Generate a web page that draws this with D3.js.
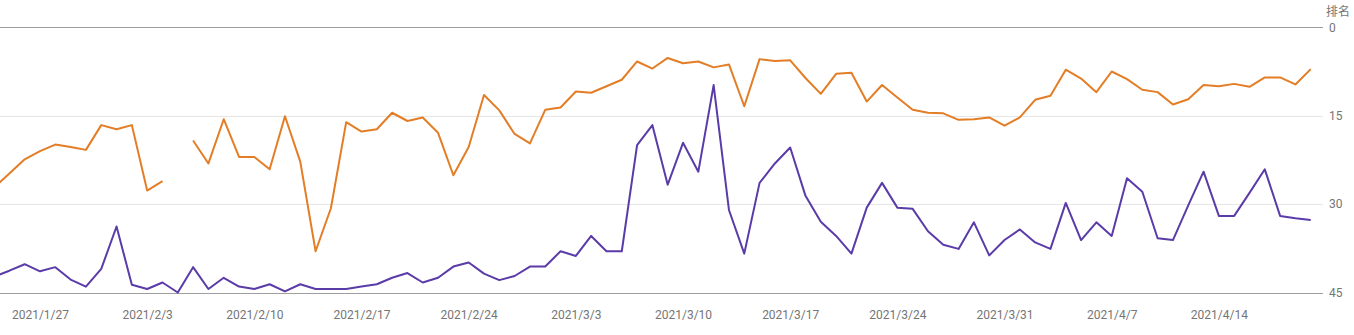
<!DOCTYPE html>
<html><head><meta charset="utf-8">
<script src="https://cdn.jsdelivr.net/npm/d3@7"></script>
<style>
html,body{margin:0;padding:0;background:#fff;}
svg{display:block;font-family:Roboto,"Noto Sans CJK SC",sans-serif;}
</style></head>
<body><svg id="c" width="1354" height="335"></svg>
<script>
const startDate = "2021-01-24";
const endDate = "2021-04-20";
const yTicks = [0, 15, 30, 45];
const yLabel = "排名";
const seriesOrange = [27.2,24.8,22.4,21.0,19.9,20.3,20.8,16.6,17.3,16.6,27.7,26.1,null,19.2,23.1,15.6,22.0,22.0,24.1,15.1,22.8,38.0,30.7,16.1,17.7,17.3,14.5,15.9,15.3,17.9,25.1,20.3,11.5,14.1,18.1,19.7,14.0,13.6,10.9,11.1,10.0,8.9,5.8,7.0,5.2,6.1,5.8,6.8,6.3,13.4,5.4,5.7,5.6,8.6,11.3,7.9,7.7,12.6,9.8,11.9,14.0,14.5,14.6,15.7,15.6,15.3,16.7,15.3,12.3,11.6,7.2,8.7,11.0,7.5,8.8,10.6,11.0,13.1,12.2,9.8,10.0,9.6,10.1,8.5,8.5,9.7,7.1];
const seriesPurple = [42.3,41.3,40.2,41.4,40.7,42.8,44.0,41.0,33.8,43.7,44.4,43.3,45.0,40.7,44.4,42.5,44.0,44.4,43.6,44.8,43.6,44.4,44.4,44.4,44.0,43.6,42.5,41.7,43.3,42.5,40.6,39.9,41.8,42.9,42.2,40.6,40.6,38.0,38.8,35.4,38.0,38.0,20.0,16.6,26.7,19.6,24.5,9.8,31.0,38.4,26.4,23.1,20.4,28.6,33.0,35.4,38.4,30.6,26.4,30.6,30.8,34.6,36.9,37.6,33.1,38.7,36.1,34.3,36.5,37.6,29.8,36.1,33.1,35.4,25.6,27.9,35.8,36.1,30.2,24.5,32.0,32.0,28.1,24.1,32.0,32.4,32.7];

const parse = d3.timeParse("%Y-%m-%d");
const dates = d3.timeDay.range(parse(startDate), d3.timeDay.offset(parse(endDate), 1));

const svg = d3.select("#c");
const plotLeft = 0, plotRight = 1323;
const x = d3.scaleTime()
  .domain([new Date(2021,0,27), new Date(2021,3,20)])
  .range([40, 40 + 83*15.31]);
const y = d3.scaleLinear().domain([0,45]).range([27.3, 292.5]);

svg.append("defs").append("clipPath").attr("id","clip")
  .append("rect").attr("x",plotLeft).attr("y",0).attr("width",plotRight-plotLeft).attr("height",335);

// gridlines
const grid = svg.append("g");
grid.selectAll("line").data(yTicks).join("line")
  .attr("x1", plotLeft).attr("x2", plotRight)
  .attr("y1", d => Math.round(y(d))+0.5).attr("y2", d => Math.round(y(d))+0.5)
  .attr("stroke", d => (d===0||d===45) ? "#9e9e9e" : "#e6e6e6")
  .attr("stroke-width", 1);

// y axis labels (right)
svg.append("g").selectAll("text").data(yTicks).join("text")
  .attr("x", 1329).attr("y", d => y(d)).attr("dy","0.35em")
  .attr("font-size", 12).attr("fill", "#757575").text(d => d);
svg.append("text").attr("x", 1326).attr("y", 12).attr("dy","0.35em")
  .attr("font-size", 12).attr("fill", "#757575")
  .attr("font-family", "'Noto Sans CJK SC',sans-serif").text(yLabel);

// x axis
const xAxis = d3.axisBottom(x)
  .tickValues(d3.timeWeek.every(1).range ? d3.timeWednesday.range(new Date(2021,0,27), new Date(2021,3,20)) : [])
  .tickFormat(d3.timeFormat("%Y/%-m/%-d"))
  .tickSize(0).tickPadding(0);
const gx = svg.append("g").attr("transform", "translate(0,315)").call(xAxis);
gx.select(".domain").remove();
gx.selectAll("text").attr("font-size", 12).attr("fill", "#757575")
  .attr("font-family", "Roboto,sans-serif").attr("dy","0.35em").attr("y",0);

// lines
const line = d3.line()
  .defined(d => d.v !== null)
  .x(d => x(d.date)).y(d => y(d.v));
const g = svg.append("g").attr("clip-path","url(#clip)");
const mk = arr => arr.map((v,i) => ({date: dates[i], v}));
g.append("path").datum(mk(seriesOrange)).attr("d", line)
  .attr("fill","none").attr("stroke","#e37d26").attr("stroke-width",2).attr("stroke-linejoin","round");
g.append("path").datum(mk(seriesPurple)).attr("d", line)
  .attr("fill","none").attr("stroke","#5a3ba8").attr("stroke-width",2).attr("stroke-linejoin","round");
</script></body></html>
